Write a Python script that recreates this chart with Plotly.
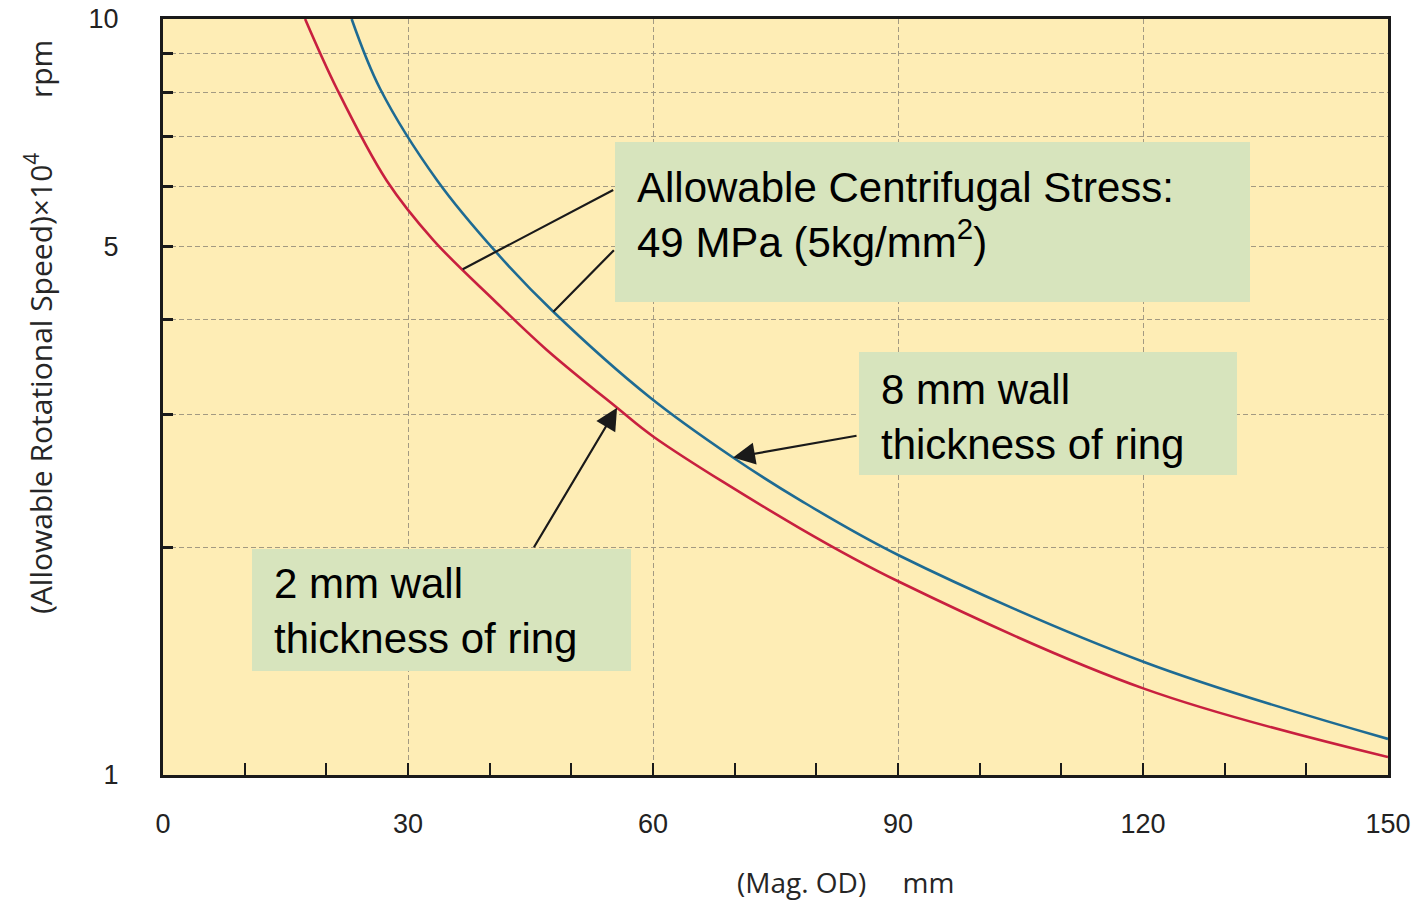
import numpy as np
import plotly.graph_objects as go

# ---- data ----
red_x = [17.4, 21.3, 27.4, 33.1, 40.5, 47.0, 55.6, 60.1, 78.0, 90.2, 120.2, 150.0]
red_y = [10.0, 8.08, 6.11, 5.10, 4.25, 3.65, 3.06, 2.80, 2.12, 1.80, 1.30, 1.056]
blue_x = [23.1, 26.6, 33.6, 40.9, 47.8, 59.6, 69.8, 78.0, 90.2, 120.2, 150.0]
blue_y = [10.0, 8.08, 6.11, 4.90, 4.10, 3.16, 2.63, 2.31, 1.95, 1.41, 1.116]

x_ticks = [0, 30, 60, 90, 120, 150]
y_ticks = [1, 5, 10]
y_ticktext = ["1", "5", "10"]
y_grid = [2, 3, 4, 5, 6, 7, 8, 9]

box_stress = "Allowable Centrifugal Stress:<br>49 MPa (5kg/mm<sup>2</sup>)"
box_8mm = "8 mm wall<br>thickness of ring"
box_2mm = "2 mm wall<br>thickness of ring"
y_title = "(Allowable Rotational Speed)\u00d710<sup>4</sup>" + "\u00a0" * 7 + "rpm"
x_title = "(Mag. OD)" + "\u00a0" * 5 + "mm"

RED = "#c8203f"
BLUE = "#1e6b93"
BG = "#feedb5"
BOX = "#d7e4bd"
GRID = "#a39a82"
FONT = "Liberation Sans"

fig = go.Figure()
fig.add_trace(go.Scatter(x=red_x, y=red_y, mode="lines", line=dict(color=RED, width=2.6, shape="spline"),
                         name="2 mm", hoverinfo="skip"))
fig.add_trace(go.Scatter(x=blue_x, y=blue_y, mode="lines", line=dict(color=BLUE, width=2.6, shape="spline"),
                         name="8 mm", hoverinfo="skip"))


def on_curve(sx, sy, x):
    # log10 y position on a series at x (annotation coordinates on log axis)
    return float(np.interp(x, sx, np.log10(sy)))


def px2paper(px, py):
    return (px - 163) / 1225.0, (775 - py) / 756.0

shapes = []
for (x0, y0, x1, y1) in [(615, 142, 1250, 302), (859, 352, 1237, 475), (252, 549, 631, 671)]:
    a0, b1 = px2paper(x0, y0)
    a1, b0 = px2paper(x1, y1)
    shapes.append(dict(type="rect", xref="paper", yref="paper", x0=a0, x1=a1, y0=b0, y1=b1,
                       fillcolor=BOX, line=dict(width=0), layer="above"))

annotations = []
for txt, (tx, ty) in [(box_stress, (635, 215)), (box_8mm, (879, 417)), (box_2mm, (272, 611))]:
    ax_, ay_ = px2paper(tx, ty)
    annotations.append(dict(text=txt, xref="paper", yref="paper", x=ax_, y=ay_, xanchor="left",
                            yanchor="middle", align="left", showarrow=False,
                            font=dict(family=FONT, size=42, color="#000000")))

# leader lines / arrows
arrows = [
    (red_x, red_y, 36.7, 152, -80, 0),
    (blue_x, blue_y, 47.8, 62, -63, 0),
    (blue_x, blue_y, 69.8, 125, -22, 2),
    (red_x, red_y, 55.6, -84, 141, 2),
]
for sx, sy, x, ax, ay, head in arrows:
    annotations.append(dict(x=x, y=on_curve(sx, sy, x), xref="x", yref="y", text="", showarrow=True,
                            ax=ax, ay=ay, arrowhead=head, arrowsize=2.0, arrowwidth=2.2,
                            arrowcolor="#1a1a1a", standoff=0, startstandoff=0))

# axis titles
tx, ty = px2paper(39, 327)
annotations.append(dict(text=y_title, xref="paper", yref="paper", x=tx, y=ty, xanchor="center", yanchor="middle",
                        textangle=-90, showarrow=False,
                        font=dict(family="Open Sans", size=30, color="#262626")))
tx, ty = px2paper(845, 882)
annotations.append(dict(text=x_title, xref="paper", yref="paper", x=tx, y=ty, xanchor="center", yanchor="middle",
                        showarrow=False, font=dict(family="Open Sans", size=28, color="#262626")))

fig.update_layout(
    width=1421, height=902,
    margin=dict(l=163, r=33, t=19, b=127, autoexpand=False),
    paper_bgcolor="white", plot_bgcolor=BG,
    showlegend=False,
    shapes=shapes, annotations=annotations,
    xaxis=dict(range=[0, 150], tickmode="array", tickvals=x_ticks, automargin=False,
               ticks="inside", ticklen=12, tickwidth=2, tickcolor="#1a1a1a",
               showline=True, linecolor="#1a1a1a", linewidth=3, mirror=True,
               showgrid=True, gridcolor=GRID, gridwidth=1.3, griddash="5px,3px",
               zeroline=False, ticklabelstandoff=23,
               tickfont=dict(family=FONT, size=27, color="#222222"),
               minor=dict(dtick=10, ticks="inside", ticklen=12, tickwidth=2, tickcolor="#1a1a1a", showgrid=False)),
    yaxis=dict(type="log", range=[0, 1], tickmode="array", tickvals=y_ticks, ticktext=y_ticktext,
               ticks="", showgrid=False, automargin=False,
               showline=True, linecolor="#1a1a1a", linewidth=3, mirror=True,
               zeroline=False, ticklabelstandoff=36,
               tickfont=dict(family=FONT, size=27, color="#222222"),
               minor=dict(tickmode="array", tickvals=y_grid, ticks="inside", ticklen=10, tickwidth=2.5,
                          tickcolor="#1a1a1a", showgrid=True, gridcolor=GRID, gridwidth=1.3, griddash="5px,3px")),
)

fig.write_html("out.html")
